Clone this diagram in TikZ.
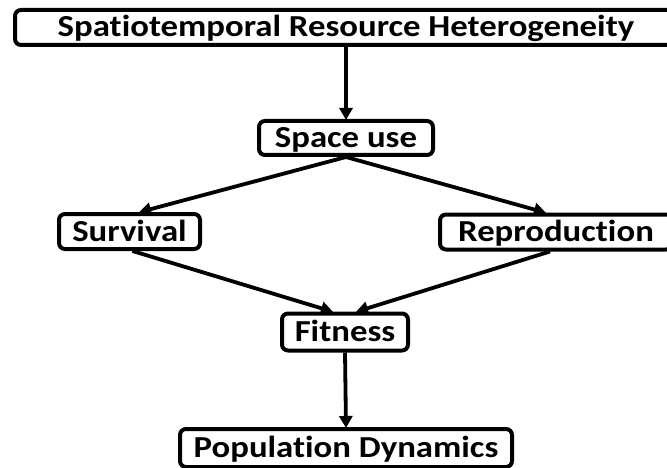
\documentclass[tikz,border=0pt]{standalone}
\usepackage{fontspec}
\setmainfont{Carlito}[Ligatures={NoCommon},FakeStretch=1.14]
\usetikzlibrary{arrows.meta}
\begin{document}
\begin{tikzpicture}[x=1pt,y=-1pt,
  box/.style={draw=black,line width=4pt,rounded corners=6pt,inner sep=0pt,
    text height=19pt,text depth=0pt,
    font=\fontsize{30.5}{36}\selectfont\bfseries,align=center},
  conn/.style={line width=3.8pt,-{Triangle[length=12pt,width=13pt]},shorten >=-1pt}]
\useasboundingbox (0,0) rectangle (667,468);
\node[box,minimum width=662pt,minimum height=35pt] (top) at (346,27.5) {Spatiotemporal Resource Heterogeneity};
\node[box,minimum width=174pt,minimum height=34pt] (space) at (346,138) {Space use};
\node[box,minimum width=141pt,minimum height=35pt] (surv) at (129.5,231.5) {Survival};
\node[box,minimum width=232pt,minimum height=35pt] (repr) at (556,232) {Reproduction};
\node[box,minimum width=126pt,minimum height=37pt] (fit) at (345,332) {Fitness};
\node[box,minimum width=332pt,minimum height=38pt] (pop) at (346,448) {Population Dynamics};
\draw[conn] (top.south -| space.north) -- (space.north);
\draw[conn] (space.south) -- ([xshift=10.5pt]surv.north);
\draw[conn] (space.south) -- ([xshift=-11pt]repr.north);
\draw[conn] ([xshift=3pt]surv.south) -- ([xshift=-13pt]fit.north);
\draw[conn] ([xshift=-6pt]repr.south) -- ([xshift=12pt]fit.north);
\draw[conn] (fit.south) -- (pop.north);
\end{tikzpicture}
\end{document}
